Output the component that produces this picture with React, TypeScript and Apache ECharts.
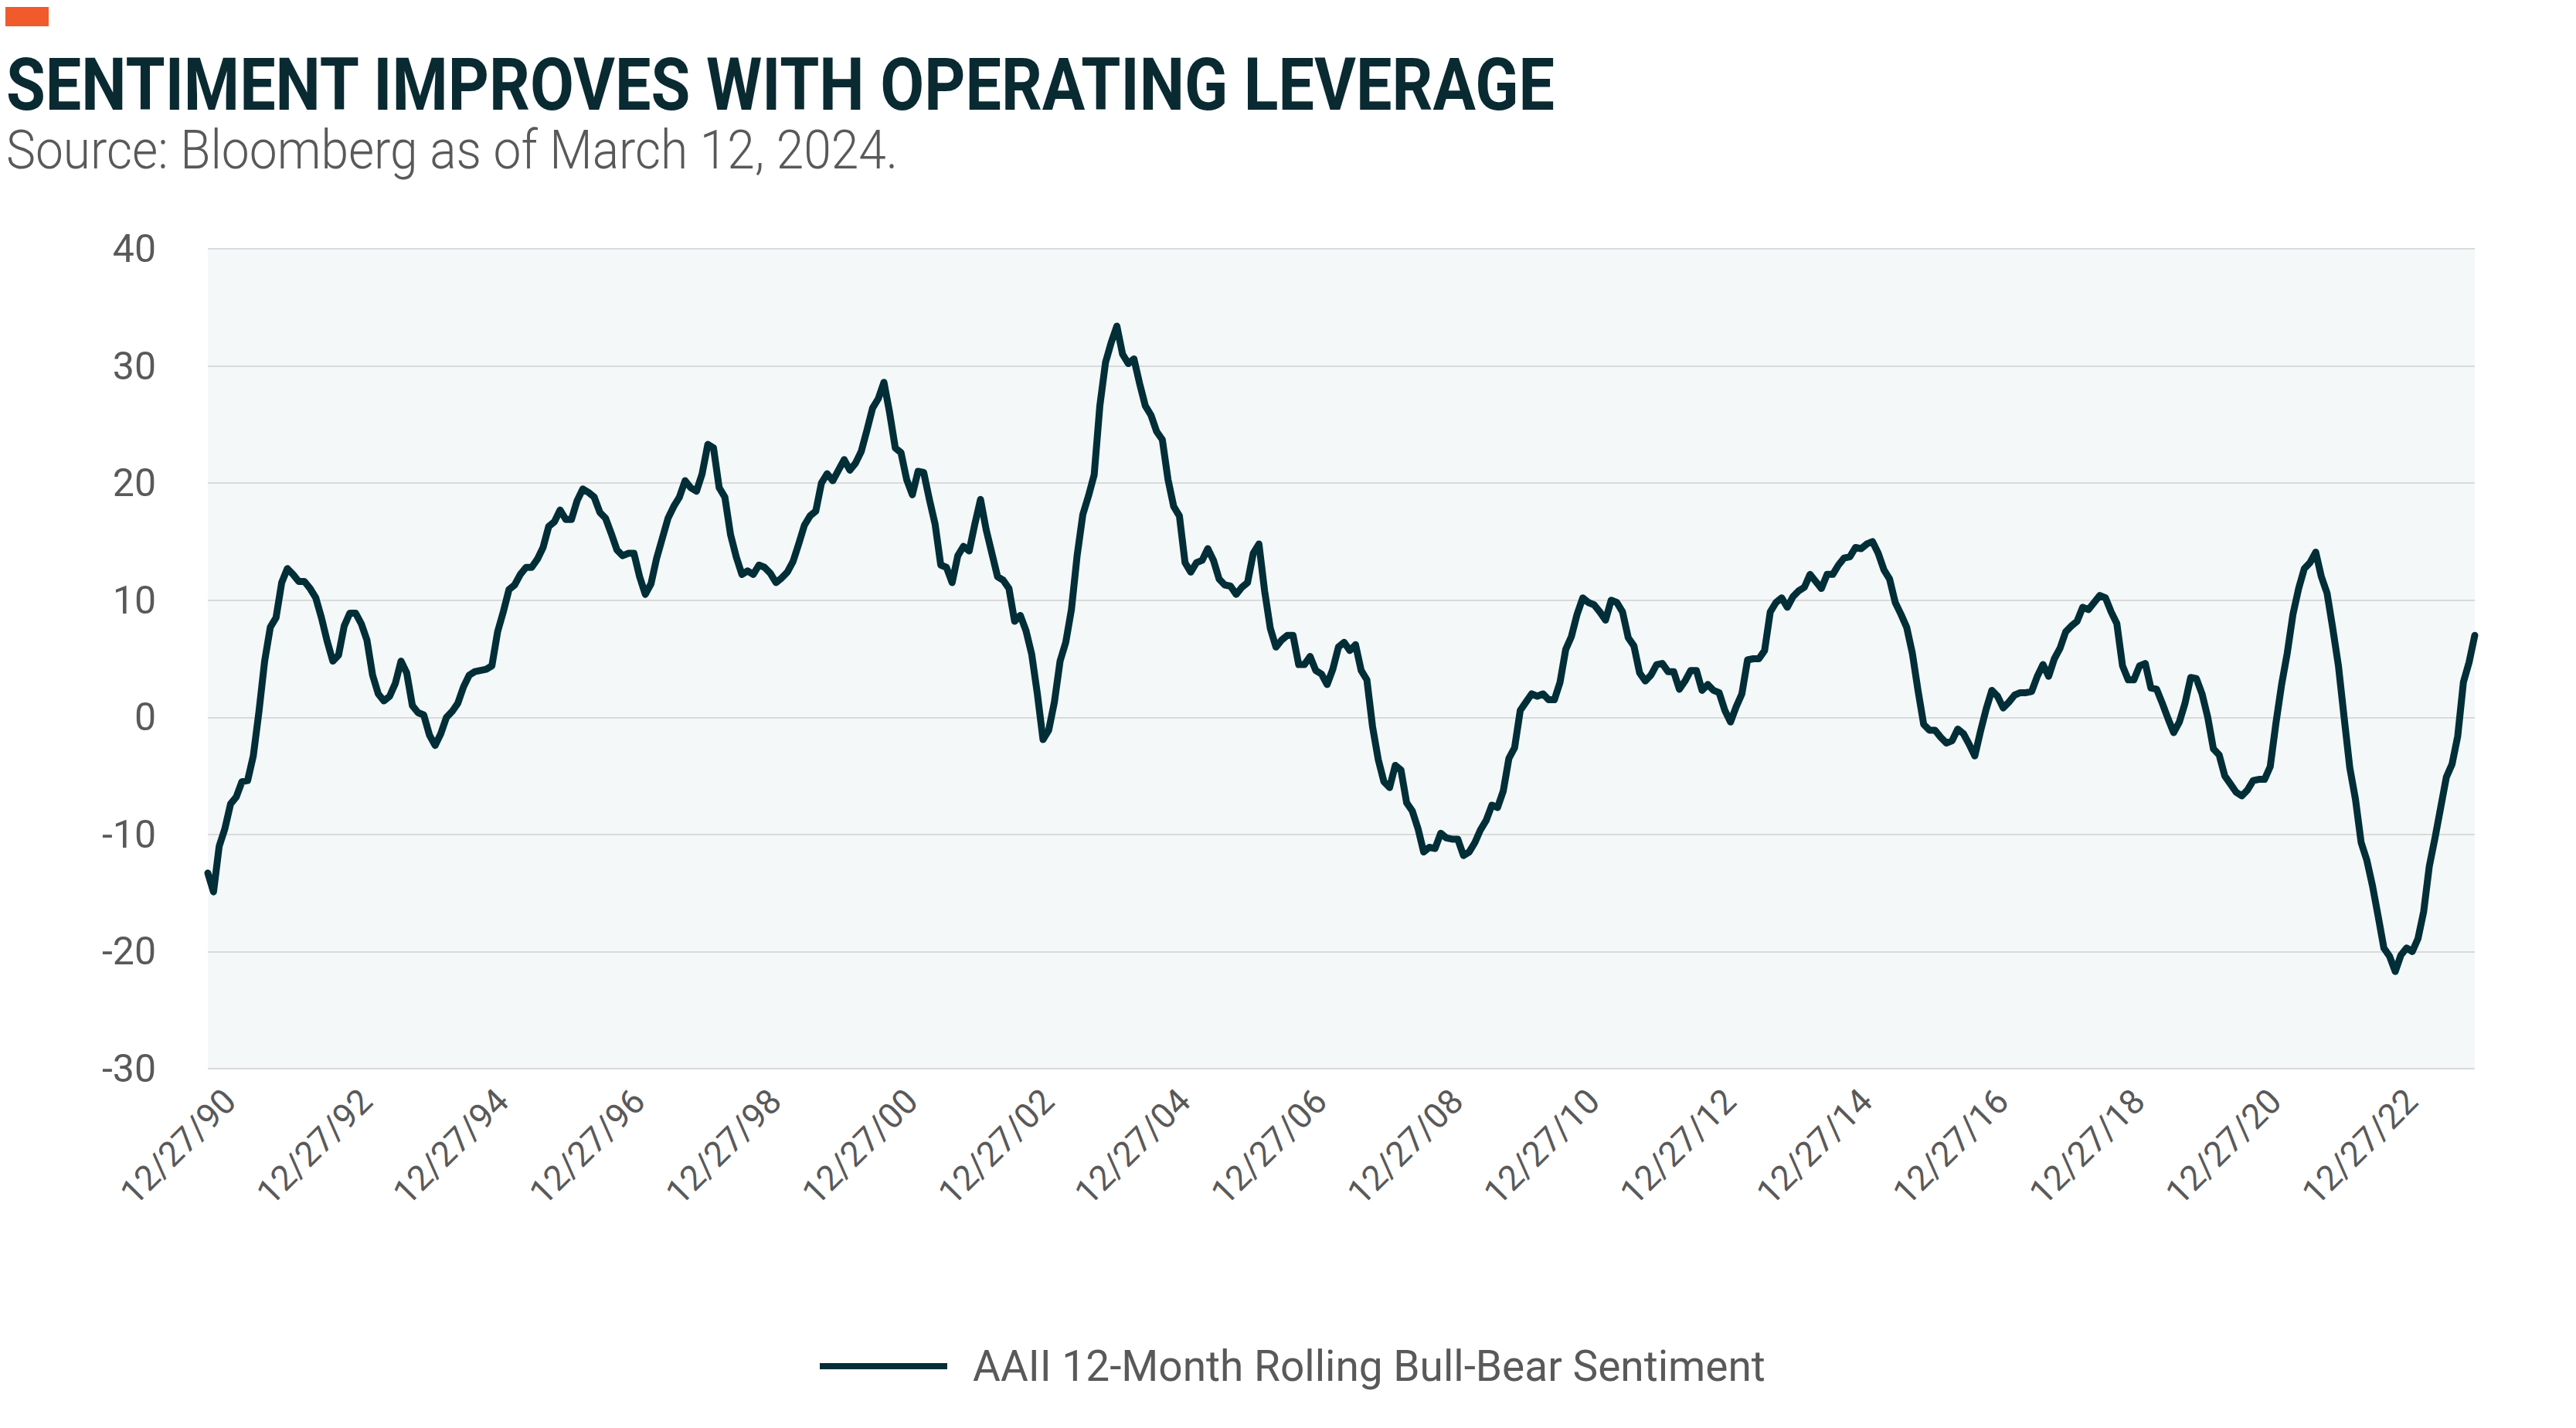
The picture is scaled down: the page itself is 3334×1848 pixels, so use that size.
import React, { useEffect, useRef } from "react";
import * as echarts from "echarts";

const TITLE = "SENTIMENT IMPROVES WITH OPERATING LEVERAGE";
const SUBTITLE = "Source: Bloomberg as of March 12, 2024.";
const SERIES_NAME = "AAII 12-Month Rolling Bull-Bear Sentiment";

// Monthly observations (27th of each month), Dec 1990 .. Mar 2024
const START_YEAR = 1990;
const START_MONTH = 12;

const values1990s_a = [
  -13.3, -14.9, -11.0, -9.5, -7.4, -6.8, -5.5, -5.4, -3.3, 0.5,
  4.8, 7.7, 8.5, 11.5, 12.7, 12.2, 11.6, 11.6, 11.0, 10.2,
  8.5, 6.5, 4.8, 5.3, 7.8, 8.9, 8.9, 8.0, 6.6, 3.6,
  2.0, 1.4, 1.8, 2.9, 4.8, 3.8, 1.0, 0.4, 0.2, -1.5,
  -2.4, -1.4, 0.0, 0.5, 1.2, 2.6, 3.6, 3.9, 4.0, 4.1,
  4.4, 7.3, 9.0, 10.9, 11.3, 12.2, 12.8, 12.8, 13.5, 14.5,
  16.3, 16.7, 17.7, 16.9, 16.9, 18.5,
];
const values1990s_b = [
  19.5, 19.2, 18.8, 17.5, 17.0, 15.7, 14.3, 13.8, 14.0, 14.0,
  12.0, 10.5, 11.4, 13.6, 15.3, 17.0, 18.0, 18.8, 20.2, 19.6,
  19.3, 20.8, 23.3, 23.0, 19.6, 18.8, 15.6, 13.7, 12.2, 12.5,
  12.2, 13.0, 12.8, 12.3, 11.5, 11.9, 12.4, 13.3, 14.8, 16.4,
  17.2, 17.6, 20.0, 20.8, 20.2, 21.1, 22.0, 21.1, 21.7, 22.7,
  24.5, 26.4, 27.2, 28.6, 26.0, 23.0, 22.6, 20.3, 19.0, 21.0,
  20.9, 18.6, 16.5, 13.0, 12.8, 11.5, 13.8,
];
const values2000s_a = [
  14.6, 14.2, 16.5, 18.6, 16.0, 14.0, 12.0, 11.7, 11.0, 8.2,
  8.7, 7.4, 5.4, 2.0, -1.9, -1.1, 1.3, 4.8, 6.4, 9.2,
  13.8, 17.3, 18.9, 20.7, 26.6, 30.3, 32.0, 33.4, 31.0, 30.2,
  30.6, 28.5, 26.6, 25.8, 24.4, 23.7, 20.3, 18.0, 17.2, 13.2,
  12.4, 13.2, 13.4, 14.4, 13.4, 11.8, 11.3, 11.2, 10.5, 11.1,
  11.5, 14.0, 14.8, 10.8, 7.6, 6.0, 6.6, 7.0, 7.0, 4.5,
  4.5, 5.2, 4.0, 3.7, 2.8, 4.1, 6.0,
];
const values2000s_b = [
  6.4, 5.7, 6.2, 4.0, 3.2, -0.8, -3.6, -5.5, -6.0, -4.1,
  -4.5, -7.3, -8.0, -9.5, -11.5, -11.1, -11.2, -9.9, -10.3, -10.4,
  -10.4, -11.8, -11.5, -10.7, -9.6, -8.8, -7.5, -7.7, -6.3, -3.5,
  -2.6, 0.6, 1.3, 2.0, 1.8, 2.0, 1.5, 1.5, 3.0, 5.8,
  6.9, 8.8, 10.2, 9.8, 9.6, 9.0, 8.3, 10.0, 9.8, 9.0,
  6.8, 6.1, 3.8, 3.1, 3.6, 4.5, 4.6, 3.9, 3.9, 2.4,
  3.1, 4.0, 4.0, 2.3, 2.8, 2.3,
];
const values2010s = [
  2.1, 0.6, -0.4, 0.9, 2.0, 4.9, 5.0, 5.0, 5.7, 9.0,
  9.8, 10.2, 9.4, 10.3, 10.8, 11.1, 12.2, 11.6, 11.0, 12.2,
  12.2, 13.0, 13.6, 13.7, 14.5, 14.4, 14.8, 15.0, 14.0, 12.6,
  11.8, 9.8, 8.8, 7.7, 5.5, 2.3, -0.6, -1.1, -1.1, -1.7,
  -2.2, -2.0, -1.0, -1.4, -2.3, -3.3, -1.2, 0.7, 2.3, 1.8,
  0.8, 1.3, 1.9, 2.1, 2.1, 2.2, 3.5, 4.5, 3.5, 5.0,
  5.9, 7.3, 7.8, 8.2, 9.4, 9.2, 9.8,
];
const values2020s = [
  10.4, 10.2, 9.0, 8.0, 4.4, 3.2, 3.2, 4.4, 4.6, 2.5,
  2.4, 1.2, -0.1, -1.3, -0.4, 1.2, 3.4, 3.3, 2.0, 0.0,
  -2.7, -3.2, -5.0, -5.7, -6.4, -6.7, -6.2, -5.4, -5.3, -5.3,
  -4.2, -0.5, 2.8, 5.5, 8.8, 11.0, 12.7, 13.2, 14.1, 12.0,
  10.6, 7.6, 4.4, 0.0, -4.3, -7.0, -10.7, -12.2, -14.4, -17.0,
  -19.7, -20.4, -21.7, -20.3, -19.7, -20.0, -18.9, -16.6, -12.7, -10.3,
  -7.7, -5.1, -4.0, -1.6, 3.0, 4.7, 7.0,
];

const Y_MIN = -30;
const Y_MAX = 40;
const Y_STEP = 10;
const LABEL_EVERY_MONTHS = 24;

const sentiment = [
  ...values1990s_a,
  ...values1990s_b,
  ...values2000s_a,
  ...values2000s_b,
  ...values2010s,
  ...values2020s,
];

const dates: string[] = sentiment.map((_, i) => {
  const k = START_MONTH - 1 + i;
  const m = (k % 12) + 1;
  const y = START_YEAR + Math.floor(k / 12);
  return `${m}/27/${String(y % 100).padStart(2, "0")}`;
});

const LINE_COLOR = "#012E37";
const TEXT_GREY = "#595959";

function measure(text: string, font: string): number {
  const c = document.createElement("canvas").getContext("2d");
  if (!c) return text.length * 40;
  c.font = font;
  return c.measureText(text).width;
}

export default function App() {
  const ref = useRef<HTMLDivElement>(null);
  useEffect(() => {
    if (!ref.current) return;
    const chart = echarts.init(ref.current, undefined, { renderer: "svg" });
    const titleFont = "bold 94px Roboto";
    const subFont = "300 70px Roboto";
    const titleScale = 2006 / measure(TITLE, titleFont);
    const subScale = 1154 / measure(SUBTITLE, subFont);

    chart.setOption({
      animation: false,
      backgroundColor: "#ffffff",
      grid: {
        left: 269,
        right: 131,
        top: 322,
        bottom: 465,
        show: true,
        backgroundColor: "#F4F8F9",
        borderWidth: 0,
        containLabel: false,
      },
      xAxis: {
        type: "category",
        data: dates,
        boundaryGap: false,
        axisLine: { show: false },
        axisTick: { show: false },
        splitLine: { show: false },
        axisLabel: {
          interval: LABEL_EVERY_MONTHS - 1,
          rotate: 45,
          fontSize: 45,
          fontFamily: "Roboto",
          color: TEXT_GREY,
          verticalAlign: "top",
          lineHeight: 80,
          margin: 6,
        },
      },
      yAxis: {
        type: "value",
        min: Y_MIN,
        max: Y_MAX,
        interval: Y_STEP,
        axisLine: { show: false },
        axisTick: { show: false },
        splitLine: { lineStyle: { color: "#D9DADB", width: 2 } },
        axisLabel: {
          fontSize: 50,
          fontFamily: "Roboto",
          color: TEXT_GREY,
          margin: 67,
        },
      },
      legend: {
        show: true,
        left: 1056,
        top: 1731,
        icon: "rect",
        itemWidth: 165,
        itemHeight: 8,
        data: [SERIES_NAME],
        textStyle: {
          fontSize: 55,
          fontFamily: "Roboto",
          color: TEXT_GREY,
          lineHeight: 64,
          padding: [0, 0, 0, 28],
        },
      },
      series: [
        {
          name: SERIES_NAME,
          type: "line",
          data: sentiment,
          showSymbol: false,
          symbol: "none",
          lineStyle: { width: 9, color: LINE_COLOR, join: "round", cap: "round" },
          itemStyle: { color: LINE_COLOR },
          emphasis: { disabled: true },
        },
      ],
      graphic: [
        {
          type: "rect",
          left: 7,
          top: 9,
          shape: { width: 56, height: 25 },
          style: { fill: "#F15A2B" },
        },
        {
          type: "text",
          x: 8,
          y: 110,
          scaleX: titleScale,
          style: {
            text: TITLE,
            font: titleFont,
            fill: "#0A2A32",
            verticalAlign: "middle",
            align: "left",
          },
        },
        {
          type: "text",
          x: 8,
          y: 194,
          scaleX: subScale,
          style: {
            text: SUBTITLE,
            font: subFont,
            fill: TEXT_GREY,
            verticalAlign: "middle",
            align: "left",
          },
        },
      ],
    });
    return () => chart.dispose();
  }, []);
  return (
    <div
      ref={ref}
      style={{ position: "fixed", left: 0, top: 0, width: 3334, height: 1848 }}
    />
  );
}
